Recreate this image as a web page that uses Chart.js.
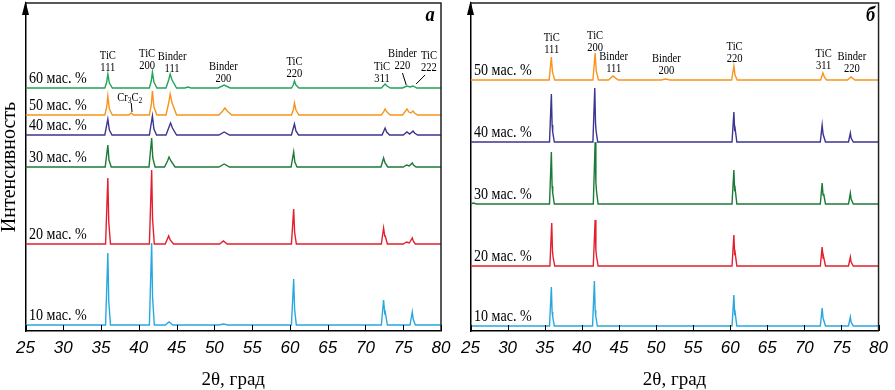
<!DOCTYPE html>
<html><head><meta charset="utf-8">
<script src="https://cdn.jsdelivr.net/npm/chart.js@4"></script>
<style>
html,body{margin:0;padding:0;background:#fff;width:895px;height:390px;overflow:hidden}
#cA{position:absolute;left:0;top:0}
#cB{position:absolute;left:445px;top:0}
</style></head><body>
<canvas id="cA" width="462" height="390"></canvas>
<canvas id="cB" width="450" height="390"></canvas>
<script>
// ---------- DATA ----------
const xTicks = [25,30,35,40,45,50,55,60,65,70,75,80];
const seriesNames = ['10 мас. %','20 мас. %','30 мас. %','40 мас. %','50 мас. %','60 мас. %'];
const colors = ['#29a8e0','#e41f2d','#1b7a37','#3c3592','#f7941d','#22a45a'];
const xTitle = '2θ, град';
const yTitle = 'Интенсивность';

// vertical stacking offsets (a.u.)
const leftOffsets = [6, 87, 164, 196, 216, 243];
const rightOffsets = [5, 65, 127, 189, 251];

// panel a: [2θ, intensity above own baseline]
const left10 = [[25,0],[35.6,0],[35.9,72],[36.02,24],[36.25,0],[41.4,0],[41.7,82],[41.82,28],[42.05,0],
  [43.5,0],[44.0,3],[44.5,0],[50.6,0],[51.2,1],[51.8,0],[60.2,0],[60.5,46],[60.62,16],[60.85,0],
  [72.1,0],[72.4,25],[72.55,12],[72.62,13],[72.9,0],[75.9,0],[76.2,13],[76.32,6],[76.38,6],[76.6,0],[80,0]];
const left20 = [[25,0],[35.6,0],[35.9,66],[36.02,22],[36.25,0],[41.4,0],[41.7,74],[41.82,25],[42.05,0],
  [43.5,0],[43.95,8],[44.15,4],[44.6,0],[50.7,0],[51.2,3],[51.7,0],[60.2,0],[60.5,35],[60.62,12],[60.85,0],
  [72.1,0],[72.4,16],[72.55,8],[72.62,8],[72.9,0],[75.0,0],[75.45,2],[75.8,1],[76.2,6],[76.32,3],[76.6,0],[80,0]];
const left30 = [[25,0],[35.55,0],[35.9,22],[36.05,7],[36.35,0],[41.35,0],[41.7,29],[41.85,9],[42.15,0],
  [43.4,0],[43.8,6],[44.0,10],[44.25,6],[44.8,0],[50.6,0],[51.3,3],[52.0,0],[60.15,0],[60.5,15],[60.65,5],[60.95,0],
  [72.05,0],[72.4,9],[72.6,4],[72.95,0],[75.0,0],[75.45,2],[75.8,1],[76.2,4],[76.35,2],[76.7,0],[80,0]];
const left40 = [[25,0],[35.5,0],[35.9,16],[36.1,5],[36.45,0],[41.4,0],[41.8,19],[42.0,6],[42.35,0],
  [43.6,0],[44.0,8],[44.2,12],[44.45,7],[45.0,0],[50.6,0],[51.3,3],[52.0,0],[60.2,0],[60.6,11],[60.8,4],[61.15,0],
  [72.2,0],[72.6,7],[72.8,3],[73.2,0],[75.0,0],[75.5,3],[75.85,1],[76.3,4],[76.5,2],[76.9,0],[80,0]];
const left50 = [[25,0],[35.5,0],[35.75,8],[35.9,19],[36.1,6],[36.5,0],[38.7,0],[39.0,2],[39.3,0],
  [41.4,0],[41.65,10],[41.8,24],[42.0,8],[42.4,0],[43.6,0],[43.95,12],[44.15,21],[44.4,12],[45.0,0],
  [50.6,0],[51.1,4],[51.4,7],[51.7,4],[52.3,0],[60.2,0],[60.45,5],[60.6,12],[60.8,5],[61.2,0],
  [72.1,0],[72.4,3],[72.6,6],[72.85,3],[73.3,0],[74.9,0],[75.3,4],[75.5,6],[75.75,3],[76.0,2],[76.3,4],[76.5,2],[76.9,0],[80,0]];
const left60 = [[25,0],[35.5,0],[35.75,6],[35.9,14],[36.1,5],[36.5,0],[41.4,0],[41.65,7],[41.8,16],[42.0,6],[42.4,0],
  [43.6,0],[43.95,8],[44.15,14],[44.4,8],[45.0,0],[46.1,0],[46.5,1],[46.9,0],[50.5,0],[51.3,3],[52.1,0],
  [60.2,0],[60.45,3],[60.6,7],[60.8,3],[61.2,0],[72.1,0],[72.6,4],[72.85,2],[73.3,0],
  [74.9,0],[75.5,2],[75.9,1],[76.3,2],[76.8,0],[80,0]];

// panel б
const right10 = [[25,0],[35.65,0],[35.9,39],[36.0,14],[36.08,9],[36.3,0],[41.45,0],[41.7,45],[41.8,16],[41.88,10],[42.1,0],
  [60.25,0],[60.5,31],[60.6,13],[60.66,14],[60.9,0],[72.15,0],[72.4,18],[72.52,8],[72.6,8],[72.85,0],
  [75.95,0],[76.2,9],[76.3,4],[76.38,4],[76.6,0],[80,0]];
const right20 = [[25,0],[35.7,0],[35.95,43],[36.05,15],[36.13,9],[36.35,0],[41.55,0],[41.8,46],[41.9,16],[41.98,10],[42.2,0],
  [60.25,0],[60.5,31],[60.6,13],[60.66,14],[60.9,0],[72.15,0],[72.4,19],[72.52,8],[72.6,9],[72.85,0],
  [75.95,0],[76.2,9],[76.3,4],[76.38,4],[76.6,0],[80,0]];
const right30 = [[25,0],[25.4,1],[25.8,0],[35.65,0],[35.9,52],[36.0,18],[36.08,11],[36.3,0],[41.55,0],[41.8,62],[41.9,22],[41.98,13],[42.2,0],
  [60.25,0],[60.5,34],[60.6,15],[60.66,16],[60.9,0],[72.15,0],[72.4,21],[72.52,9],[72.6,10],[72.85,0],
  [75.95,0],[76.2,11],[76.3,5],[76.38,5],[76.6,0],[80,0]];
const right40 = [[25,0],[35.65,0],[35.9,48],[36.0,17],[36.08,10],[36.3,0],[41.5,0],[41.75,54],[41.85,19],[41.93,11],[42.15,0],
  [60.25,0],[60.5,30],[60.6,13],[60.66,14],[60.9,0],[72.15,0],[72.4,17],[72.52,8],[72.6,8],[72.85,0],
  [75.95,0],[76.2,9],[76.3,4],[76.38,4],[76.6,0],[80,0]];
const right50 = [[25,0],[35.6,0],[35.9,23],[36.05,8],[36.35,0],[41.5,0],[41.8,27],[41.95,9],[42.25,0],
  [43.6,0],[44.2,4],[44.9,0],[50.7,0],[51.3,1],[51.9,0],[60.2,0],[60.5,14],[60.65,5],[60.95,0],
  [72.2,0],[72.5,7],[72.7,3],[73.0,0],[75.8,0],[76.3,3],[76.8,0],[80,0]];

const leftSeries = [left10, left20, left30, left40, left50, left60];
const rightSeries = [right10, right20, right30, right40, right50];

// peak annotations: text lines, 2θ, intensity level of first line
const leftPeakLabels = [
  {lines:['TiC','111'], x:35.9, y:275},
  {lines:['TiC','200'], x:41.1, y:277},
  {lines:['Binder','111'], x:44.4, y:274},
  {lines:['Binder','200'], x:51.2, y:264},
  {lines:['TiC','220'], x:60.6, y:269},
  {lines:['TiC','311'], x:72.2, y:264},
  {lines:['Binder','220'], x:74.9, y:277},
  {lines:['TiC','222'], x:78.4, y:275}
];
const leftLeaders = [[74.9,258,75.4,246],[77.9,256,76.7,247],[39.0,228,39.1,219]];
const rightPeakLabels = [
  {lines:['TiC','111'], x:35.95, y:293},
  {lines:['TiC','200'], x:41.8, y:295},
  {lines:['Binder','111'], x:44.3, y:274},
  {lines:['Binder','200'], x:51.4, y:272},
  {lines:['TiC','220'], x:60.6, y:284},
  {lines:['TiC','311'], x:72.6, y:277},
  {lines:['Binder','220'], x:76.4, y:274}
];

// ---------- DRAWING ----------
const SX = 0.88; // horizontal squeeze of serif text in the source
function stext(ctx, s, x, y, size, align, weight){
  ctx.save();
  ctx.font = (weight||'') + ' ' + size + 'px "Liberation Serif", "Times New Roman", serif';
  ctx.textAlign = align; ctx.textBaseline = 'middle'; ctx.fillStyle = '#000';
  ctx.translate(x, y); ctx.scale(SX, 1);
  ctx.fillText(s, 0, 0);
  ctx.restore();
}

function panelPlugin(cfg){
  return {
    id: 'panel_' + cfg.id,
    afterDatasetsDraw(chart){
      const ctx = chart.ctx, a = chart.chartArea, xs = chart.scales.x, ys = chart.scales.y;
      ctx.save();
      // frame top/right
      ctx.strokeStyle = '#222'; ctx.lineWidth = 1.5;
      ctx.beginPath(); ctx.moveTo(a.left, a.top); ctx.lineTo(a.right, a.top); ctx.lineTo(a.right, a.bottom); ctx.stroke();
      // inward ticks
      ctx.strokeStyle = '#000'; ctx.lineWidth = 1;
      xTicks.forEach(v => { const px = Math.round(xs.getPixelForValue(v)) + 0.5;
        ctx.beginPath(); ctx.moveTo(px, a.bottom); ctx.lineTo(px, a.bottom - 6); ctx.stroke(); });
      // arrow on y axis
      ctx.fillStyle = '#000';
      ctx.beginPath(); ctx.moveTo(a.left, a.top - 2); ctx.lineTo(a.left - 3.5, a.top + 12); ctx.lineTo(a.left + 3.5, a.top + 12); ctx.closePath(); ctx.fill();
      // panel letter
      stext(ctx, cfg.letter, a.right - cfg.letterGap, a.top + 13, 21, 'center', 'italic bold');
      // series labels
      cfg.offsets.forEach((o, i) => stext(ctx, seriesNames[i], a.left + 3.5, ys.getPixelForValue(o) - 9.5, 16, 'left'));
      // peak labels
      cfg.peaks.forEach(p => { const px = xs.getPixelForValue(p.x), py = ys.getPixelForValue(p.y);
        p.lines.forEach((t, k) => stext(ctx, t, px, py + k * 11.5, 12, 'center')); });
      // leader lines
      ctx.strokeStyle = '#000'; ctx.lineWidth = 1;
      (cfg.leaders || []).forEach(l => { ctx.beginPath();
        ctx.moveTo(xs.getPixelForValue(l[0]), ys.getPixelForValue(l[1]));
        ctx.lineTo(xs.getPixelForValue(l[2]), ys.getPixelForValue(l[3])); ctx.stroke(); });
      // Cr3C2
      if (cfg.cr){
        const cx = xs.getPixelForValue(cfg.cr.x), cy = ys.getPixelForValue(cfg.cr.y);
        const parts = [['Cr',12,0],['3',8.5,3],['C',12,0],['2',8.5,3]];
        ctx.save();
        let w = 0;
        parts.forEach(p => { ctx.font = p[1] + 'px "Liberation Serif"'; w += ctx.measureText(p[0]).width * SX; });
        let x0 = cx - w / 2;
        parts.forEach(p => { ctx.font = p[1] + 'px "Liberation Serif"'; const pw = ctx.measureText(p[0]).width * SX;
          stext(ctx, p[0], x0, cy + p[2], p[1], 'left'); x0 += pw; });
        ctx.restore();
      }
      ctx.restore();
    }
  };
}

function makeChart(id, series, offsets, cfg, isLeft, rightPad){
  const datasets = series.map((s, i) => ({
    label: seriesNames[i],
    data: s.map(p => ({x: p[0], y: p[1] + offsets[i]})),
    borderColor: colors[i], borderWidth: 1.4, pointRadius: 0, fill: false, tension: 0
  }));
  return new Chart(document.getElementById(id), {
    type: 'line',
    data: {datasets},
    options: {
      responsive: false, animation: false, devicePixelRatio: 1,
      layout: {padding: {left: 0, right: rightPad, top: 3, bottom: 0}},
      plugins: {legend: {display: false}, tooltip: {enabled: false}},
      scales: {
        x: {type: 'linear', min: 25, max: 80,
          afterBuildTicks: s => { s.ticks = xTicks.map(v => ({value: v})); },
          ticks: {font: {family: 'Liberation Sans', style: 'italic', size: 17}, color: '#000', padding: 7, maxRotation: 0, autoSkip: false},
          grid: {display: false, drawTicks: false},
          border: {display: true, color: '#000', width: 1.5},
          title: {display: true, text: xTitle, color: '#000', padding: {top: 0, bottom: 0}, font: {family: 'Liberation Serif', size: 19, lineHeight: 1.0}},
          afterFit: s => { s.height = 59; }
        },
        y: {min: 0, max: 328,
          ticks: {display: false}, grid: {display: false, drawTicks: false},
          border: {display: true, color: '#000', width: 1.5},
          title: {display: isLeft, text: yTitle, color: '#000', padding: {top: 0, bottom: 0}, font: {family: 'Liberation Serif', size: 20, lineHeight: 1}},
          afterFit: s => { s.width = 25.5; }
        }
      }
    },
    plugins: [panelPlugin(cfg)]
  });
}

makeChart('cA', leftSeries, leftOffsets,
  {id: 'a', letter: 'а', letterGap: 11, offsets: leftOffsets, peaks: leftPeakLabels, leaders: leftLeaders, cr: {x: 38.8, y: 233}}, true, 462 - 441);
makeChart('cB', rightSeries, rightOffsets,
  {id: 'b', letter: 'б', letterGap: 8, offsets: rightOffsets, peaks: rightPeakLabels}, false, 450 - 442);
</script>
</body></html>
